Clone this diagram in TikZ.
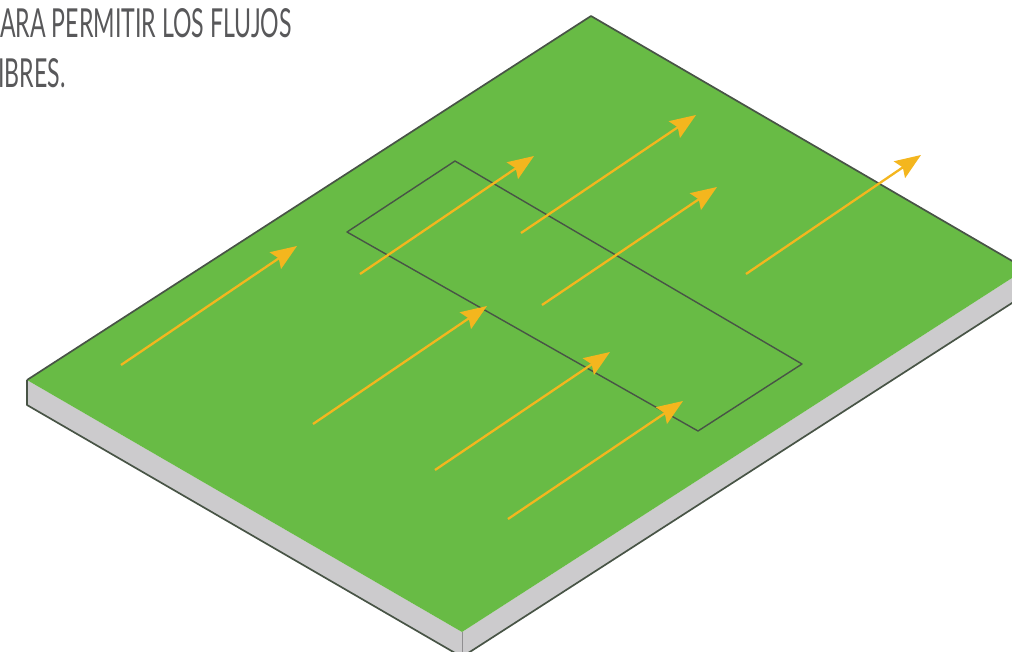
\documentclass[tikz,border=0pt]{standalone}
\usepackage{fontspec}
\usepackage{tikz}
\usetikzlibrary{arrows.meta}
\newfontfamily\capsfont[FakeStretch=0.578]{Lato}
\definecolor{platetop}{RGB}{104,187,69}
\definecolor{plateside}{RGB}{204,203,205}
\definecolor{plateline}{RGB}{72,84,70}
\definecolor{flowcolor}{RGB}{244,182,30}
\definecolor{textcolor}{RGB}{88,88,90}

\begin{document}
\begin{tikzpicture}
          [x=1pt,y=-1pt,line join=round]
          \tikzstyle{flow}=[-{Stealth[length=26pt,width=20pt,inset=4pt,fill=flowcolor]},draw=flowcolor,line width=2.3pt]
          \tikzstyle{caption}=[inner sep=0pt,anchor=base west,text=textcolor,font=\capsfont\fontsize{40}{40}\selectfont]

          \useasboundingbox (0,0) rectangle (1012,651);
          \clip (0,0) rectangle (1012,651);

          % plate corners
          \coordinate (tl) at (27,380);
          \coordinate (tt) at (591,16);
          \coordinate (tr) at (1026,269);
          \coordinate (tb) at (462,632);
          \coordinate (bl) at (27,405);
          \coordinate (bb) at (462,657);
          \coordinate (br) at (1026,294);

          % opening in the plate
          \coordinate (r1) at (455,161);
          \coordinate (r2) at (802,364);
          \coordinate (r3) at (698,431);
          \coordinate (r4) at (347,232);

          \fill[plateside] (tl) -- (tb) -- (tr) -- (br) -- (bb) -- (bl) -- cycle;
          \fill[platetop] (tl) -- (tt) -- (tr) -- (tb) -- cycle;
          \draw[plateline,line width=1.7pt] (tl) -- (tt) -- (tr);
          \draw[plateline,line width=1.7pt] (tl) -- (bl) -- (bb) -- (br);
          \draw[plateside!70!black,line width=0.6pt] (tb) -- (bb);
          \draw[plateline,line width=1.4pt] (r1) -- (r2) -- (r3) -- (r4) -- cycle;

          % arrows
          \coordinate (a1) at (121,365);
          \coordinate (b1) at (297,246);
          \coordinate (a2) at (360,274);
          \coordinate (b2) at (534,156);
          \coordinate (a3) at (521,233);
          \coordinate (b3) at (696,115);
          \coordinate (a4) at (542,305);
          \coordinate (b4) at (717,187);
          \coordinate (a5) at (746,274);
          \coordinate (b5) at (921,155);
          \coordinate (a6) at (313,424);
          \coordinate (b6) at (487,306);
          \coordinate (a7) at (435,470);
          \coordinate (b7) at (610,352);
          \coordinate (a8) at (508,519);
          \coordinate (b8) at (683,401);

          \foreach \n in {1,...,8}
            \draw[flow] (a\n) -- (b\n);

          \node[caption] (line1) at (0,37) {ARA PERMITIR LOS FLUJOS};
          \node[caption] (line2) at (-2,87) {IBRES.};
\end{tikzpicture}
\end{document}
